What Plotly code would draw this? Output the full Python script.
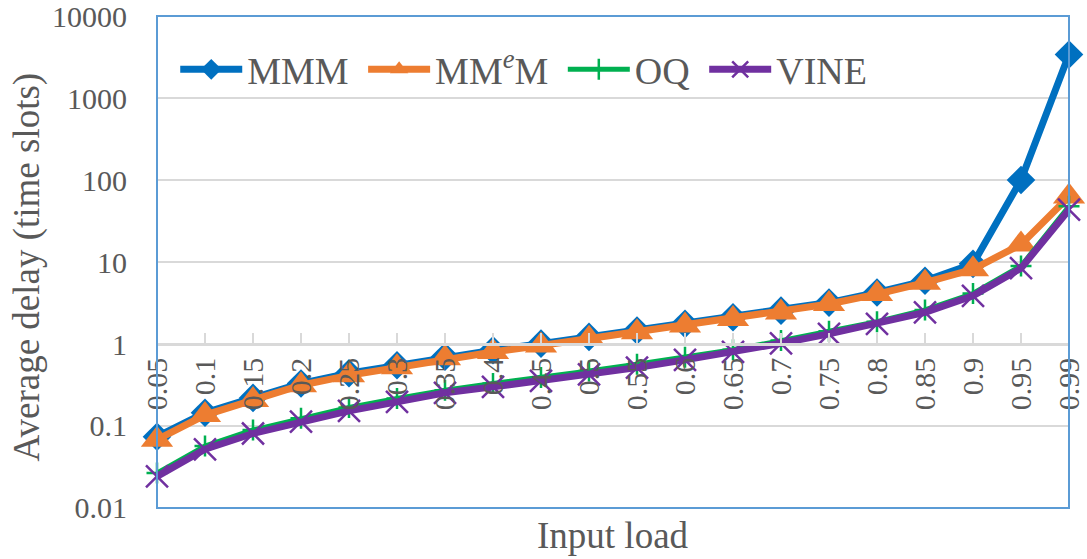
import plotly.graph_objects as go

loads = ["0.05", "0.1", "0.15", "0.2", "0.25", "0.3", "0.35", "0.4", "0.45", "0.5",
         "0.55", "0.6", "0.65", "0.7", "0.75", "0.8", "0.85", "0.9", "0.95", "0.99"]
mmm = [0.074, 0.145, 0.22, 0.33, 0.44, 0.55, 0.70, 0.84, 1.01, 1.22,
       1.46, 1.76, 2.12, 2.55, 3.2, 4.25, 5.9, 9.5, 100, 3400]
mmem = [0.068, 0.136, 0.207, 0.314, 0.415, 0.52, 0.67, 0.80, 0.96, 1.16,
        1.39, 1.68, 2.02, 2.43, 3.07, 4.06, 5.6, 8.15, 16.4, 63]
oq = [0.0267, 0.057, 0.0895, 0.124, 0.168, 0.217, 0.273, 0.33, 0.39, 0.468,
      0.565, 0.69, 0.85, 1.10, 1.43, 1.87, 2.6, 4.13, 8.93, 47.8]
vine = [0.0243, 0.052, 0.081, 0.113, 0.153, 0.197, 0.254, 0.30, 0.354, 0.427,
        0.515, 0.64, 0.80, 1.02, 1.33, 1.76, 2.43, 3.87, 8.4, 43.5]
ytick_vals = [0.01, 0.1, 1, 10, 100, 1000, 10000]
ytick_text = ["0.01", "0.1", "1", "10", "100", "1000", "10000"]

FONT = "Liberation Serif, Times New Roman, serif"
GRAY = "#595959"
GRID = "#D9D9D9"

fig = go.Figure()
fig.add_trace(go.Scatter(x=loads, y=mmm, name="MMM&nbsp;", mode="lines+markers",
                         line=dict(color="#0070C0", width=7),
                         marker=dict(symbol="diamond", size=22, color="#0070C0"),
                         cliponaxis=False))
fig.add_trace(go.Scatter(x=loads, y=mmem, name="MM<sup><i>e</i></sup>M&nbsp;", mode="lines+markers",
                         line=dict(color="#ED7D31", width=7),
                         marker=dict(symbol="triangle-up", size=28, color="#ED7D31"),
                         cliponaxis=False))
fig.add_trace(go.Scatter(x=loads, y=oq, name="OQ&nbsp;", mode="lines+markers",
                         line=dict(color="#00B050", width=5),
                         marker=dict(symbol="cross-thin", size=15,
                                     line=dict(color="#00B050", width=2.5)),
                         cliponaxis=False))
fig.add_trace(go.Scatter(x=loads, y=vine, name="VINE", mode="lines+markers",
                         line=dict(color="#7030A0", width=7),
                         marker=dict(symbol="x-thin", size=22,
                                     line=dict(color="#7030A0", width=2.5)),
                         cliponaxis=False))

fig.update_layout(
    template="none",
    width=1087, height=559,
    margin=dict(l=157, r=18, t=16, b=51, autoexpand=False),
    paper_bgcolor="white", plot_bgcolor="white",
    font=dict(family=FONT, color=GRAY, size=30),
    showlegend=True,
    legend=dict(orientation="h", x=0.02, y=0.955, xanchor="left", yanchor="top",
                font=dict(size=38, color=GRAY, family=FONT),
                bgcolor="rgba(0,0,0,0)", itemwidth=62, tracegroupgap=0),
    xaxis=dict(type="category", range=[0, 19], anchor="free", position=1/3,
               automargin=False,
               showline=True, linecolor=GRID, linewidth=2.5,
               ticks="inside", ticklen=10, tickwidth=2, tickcolor=GRID,
               tickangle=-90, tickfont=dict(size=30, color=GRAY, family=FONT),
               showgrid=False, zeroline=False),
    yaxis=dict(type="log", range=[-2.0001, 4.0001], tickvals=ytick_vals, ticktext=ytick_text,
               automargin=False, ticklabeloverflow="allow",
               showgrid=True, gridcolor=GRID, gridwidth=2,
               showline=False, ticks="", ticklabelstandoff=29,
               tickfont=dict(size=30, color=GRAY, family=FONT), zeroline=False),
    shapes=[dict(type="rect", xref="paper", yref="paper", x0=0, x1=1, y0=0, y1=1,
                 line=dict(color="#5B9BD5", width=2), layer="above")],
    annotations=[
        dict(text="Input load", xref="paper", yref="paper", x=0.5, y=-0.055,
             xanchor="center", yanchor="middle", showarrow=False,
             font=dict(size=37, color=GRAY, family=FONT)),
        dict(text="Average delay (time slots)", xref="paper", yref="paper",
             x=-0.143, y=0.49, xanchor="center", yanchor="middle", textangle=-90,
             showarrow=False, font=dict(size=37, color=GRAY, family=FONT)),
    ],
)

fig.write_html("out.html")
